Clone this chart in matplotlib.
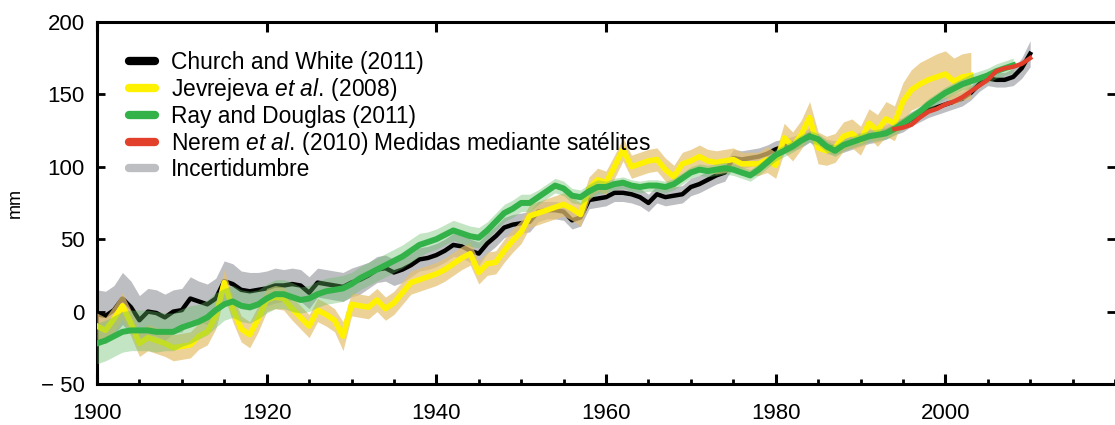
import numpy as np
import matplotlib
matplotlib.use('Agg')
import matplotlib.pyplot as plt
from matplotlib.lines import Line2D
from matplotlib.ticker import FixedLocator, FixedFormatter, MultipleLocator

plt.rcParams['font.family'] = ['Liberation Sans', 'DejaVu Sans']
plt.rcParams['mathtext.fontset'] = 'custom'
plt.rcParams['mathtext.rm'] = 'Liberation Sans'
plt.rcParams['mathtext.it'] = 'Liberation Sans:italic'

# Church and White (2011), black, with grey uncertainty
cw_years = list(range(1900, 2011))
cw_mm = [-2, -3, 1, 9, 3, -6, 0, -1, -4, 0,
         1, 9, 7, 5, 9, 21, 19, 15, 14, 15,
         16, 18, 18, 19, 18, 13, 20, 19, 18, 17,
         20, 22, 25, 29, 30, 27, 29, 32, 36, 37,
         39, 42, 46, 45, 42, 40, 47, 52, 58, 60,
         61, 62, 69, 70, 70, 69, 63, 65, 77, 78,
         79, 82, 82, 81, 79, 75, 81, 79, 80, 81,
         86, 88, 91, 94, 96, 106, 105, 106, 107, 109,
         112, 114, 116, 118, 122, 117, 114, 113, 115, 117,
         119, 121, 122, 124, 127, 129, 133, 136, 139, 141,
         143, 145, 147, 151, 157, 161, 160, 160, 162, 168,
         178]
cw_err = [17, 17, 17, 18, 18, 17, 16, 16, 16, 15,
          15, 15, 14, 14, 14, 14, 14, 13, 13, 12,
          12, 12, 11, 11, 11, 11, 10, 10, 10, 10,
          10, 10, 9, 9, 9, 9, 9, 8, 8, 8,
          8, 8, 8, 8, 8, 8, 7, 7, 7, 7,
          7, 7, 7, 6, 6, 6, 6, 6, 6, 6,
          6, 6, 6, 6, 6, 6, 6, 6, 6, 6,
          6, 6, 6, 6, 6, 6, 6, 6, 6, 6,
          6, 5, 5, 5, 5, 5, 5, 5, 5, 5,
          5, 5, 5, 5, 5, 5, 5, 5, 5, 5,
          5, 5, 5, 5, 5, 5, 5, 5, 6, 7,
          9]

# Jevrejeva et al. (2008), yellow, with tan uncertainty
jv_years = list(range(1900, 2004))
jv_mm = [-10, -13, -5, 4, -8, -22, -18, -20, -22, -25,
         -24, -23, -17, -14, -3, 20, 2, -12, -16, -5,
         8, 10, 9, 2, -4, -10, 1, -2, -6, -17,
         5, 4, 3, 8, 2, 6, 13, 20, 22, 24,
         26, 29, 33, 37, 40, 27, 33, 34, 42, 49,
         55, 66, 68, 70, 72, 74, 71, 67, 85, 91,
         89, 100, 112, 100, 102, 104, 105, 98, 93, 102,
         104, 107, 104, 103, 104, 105, 102, 102, 102, 105,
         101, 120, 114, 122, 134, 113, 111, 113, 121, 123,
         118, 130, 125, 133, 130, 145, 153, 157, 160, 162,
         164, 159, 162, 163]
jv_err = [9, 9, 9, 9, 9, 9, 9, 9, 9, 9,
          9, 9, 9, 9, 9, 9, 9, 9, 9, 9,
          8, 8, 8, 8, 8, 8, 8, 8, 8, 10,
          8, 8, 8, 8, 8, 8, 8, 8, 8, 8,
          8, 8, 8, 8, 8, 8, 8, 8, 8, 8,
          8, 8, 8, 8, 8, 8, 8, 8, 8, 8,
          8, 8, 8, 8, 8, 8, 8, 8, 8, 8,
          8, 8, 8, 8, 8, 8, 8, 8, 8, 9,
          9, 10, 10, 10, 11, 11, 10, 10, 10, 10,
          10, 10, 11, 12, 12, 13, 14, 15, 15, 16,
          16, 16, 16, 16]

# Ray and Douglas (2011), green, with light green uncertainty
rd_years = list(range(1900, 2009))
rd_mm = [-22, -20, -17, -14, -13, -13, -13, -14, -14, -14,
         -11, -9, -7, -4, 1, 5, 7, 4, 3, 5,
         9, 12, 12, 10, 8, 9, 12, 14, 15, 16,
         19, 23, 26, 29, 32, 35, 38, 42, 46, 48,
         50, 53, 56, 54, 52, 51, 56, 62, 68, 71,
         75, 75, 79, 83, 87, 85, 80, 79, 83, 86,
         86, 88, 89, 87, 86, 87, 87, 86, 88, 92,
         96, 98, 97, 98, 99, 98, 96, 94, 98, 103,
         108, 111, 114, 118, 121, 119, 114, 111, 115, 117,
         119, 121, 122, 123, 126, 130, 134, 138, 143, 147,
         151, 154, 157, 159, 161, 163, 166, 168, 170]
rd_err = [14, 14, 14, 14, 14, 14, 14, 14, 13, 13,
          13, 13, 12, 12, 12, 11, 11, 11, 11, 10,
          10, 10, 10, 10, 9, 9, 9, 9, 9, 9,
          8, 8, 8, 8, 8, 8, 8, 8, 8, 7,
          7, 7, 7, 7, 7, 7, 6, 6, 6, 6,
          6, 6, 5, 5, 5, 5, 5, 5, 5, 5,
          4, 4, 4, 4, 4, 4, 4, 4, 4, 4,
          4, 4, 4, 4, 4, 4, 4, 4, 4, 4,
          4, 4, 4, 4, 4, 4, 4, 4, 4, 4,
          4, 4, 4, 4, 4, 4, 4, 4, 4, 4,
          4, 4, 4, 5, 5, 5, 5, 5, 5]

# Nerem et al. (2010), satellite altimetry, red
nr_years = list(range(1994, 2011))
nr_mm = [126, 127, 129, 134, 138, 140, 143, 145, 148, 152,
         156, 160, 166, 168, 169, 171, 175]

labels = ['Church and White (2011)',
          r'Jevrejeva $\mathit{et\ al.}\,$(2008)',
          'Ray and Douglas (2011)',
          r'Nerem $\mathit{et\ al.}\,$(2010) Medidas mediante satélites',
          'Incertidumbre']
ytick_vals = [-50, 0, 50, 100, 150, 200]
ytick_text = ['\u2212 50', '0', '50', '100', '150', '200']

c_black = '#000000'
c_yellow = '#FFF200'
c_green = '#33B24A'
c_red = '#E2402A'
c_grey = '#BDBEC2'
c_tan = '#E6C171'
c_lgreen = '#63BD63'

fig = plt.figure(figsize=(11.15, 4.25), dpi=100)
ax = fig.add_axes([0.087, 0.0965, 0.913, 0.852])

cw = np.array(cw_mm, float); cwe = np.array(cw_err, float)
jv = np.array(jv_mm, float); jve = np.array(jv_err, float)
rd = np.array(rd_mm, float); rde = np.array(rd_err, float)

ax.fill_between(cw_years, cw - cwe, cw + cwe, color=c_grey, lw=0, zorder=1)
ax.plot(cw_years, cw, color=c_black, lw=3.2, zorder=2)
ax.fill_between(jv_years, jv - jve, jv + jve, color=c_tan, alpha=0.72, lw=0, zorder=3)
ax.plot(jv_years, jv, color=c_yellow, lw=4.0, zorder=4)
ax.fill_between(rd_years, rd - rde, rd + rde, color=c_lgreen, alpha=0.38, lw=0, zorder=5)
ax.plot(rd_years, rd, color=c_green, lw=4.3, zorder=6)
ax.plot(nr_years, nr_mm, color=c_red, lw=3.2, zorder=7)

ax.set_xlim(1900, 2020)
ax.set_ylim(-50, 200)

ax.xaxis.set_minor_locator(MultipleLocator(5))
ax.set_xticks([1900, 1920, 1940, 1960, 1980, 2000])
ax.set_xticklabels(['1900', '1920', '1940', '1960', '1980', '2000'])
ax.yaxis.set_major_locator(FixedLocator(ytick_vals))
ax.yaxis.set_major_formatter(FixedFormatter(ytick_text))

for s in ['left', 'bottom', 'top']:
    ax.spines[s].set_linewidth(2.2)
ax.spines['right'].set_visible(False)

ax.tick_params(axis='x', which='major', direction='in', length=7, width=2.2,
               top=True, labelsize=16, pad=14)
ax.tick_params(axis='x', which='minor', direction='in', length=3.5, width=2,
               top=False)
ax.tick_params(axis='y', which='major', direction='in', length=6, width=2,
               right=True, labelsize=16, pad=9)

ax.set_ylabel('mm', fontsize=13, labelpad=12)

handles = [Line2D([], [], color=c, lw=6, solid_capstyle='round')
           for c in [c_black, c_yellow, c_green, c_red, c_grey]]
ax.legend(handles, labels, loc='upper left', bbox_to_anchor=(0.031, 0.9185),
          frameon=False, fontsize=16.4, handlelength=1.18, handletextpad=0.68,
          labelspacing=0.076, borderpad=0, borderaxespad=0)

fig.savefig('out.png', dpi=100)
